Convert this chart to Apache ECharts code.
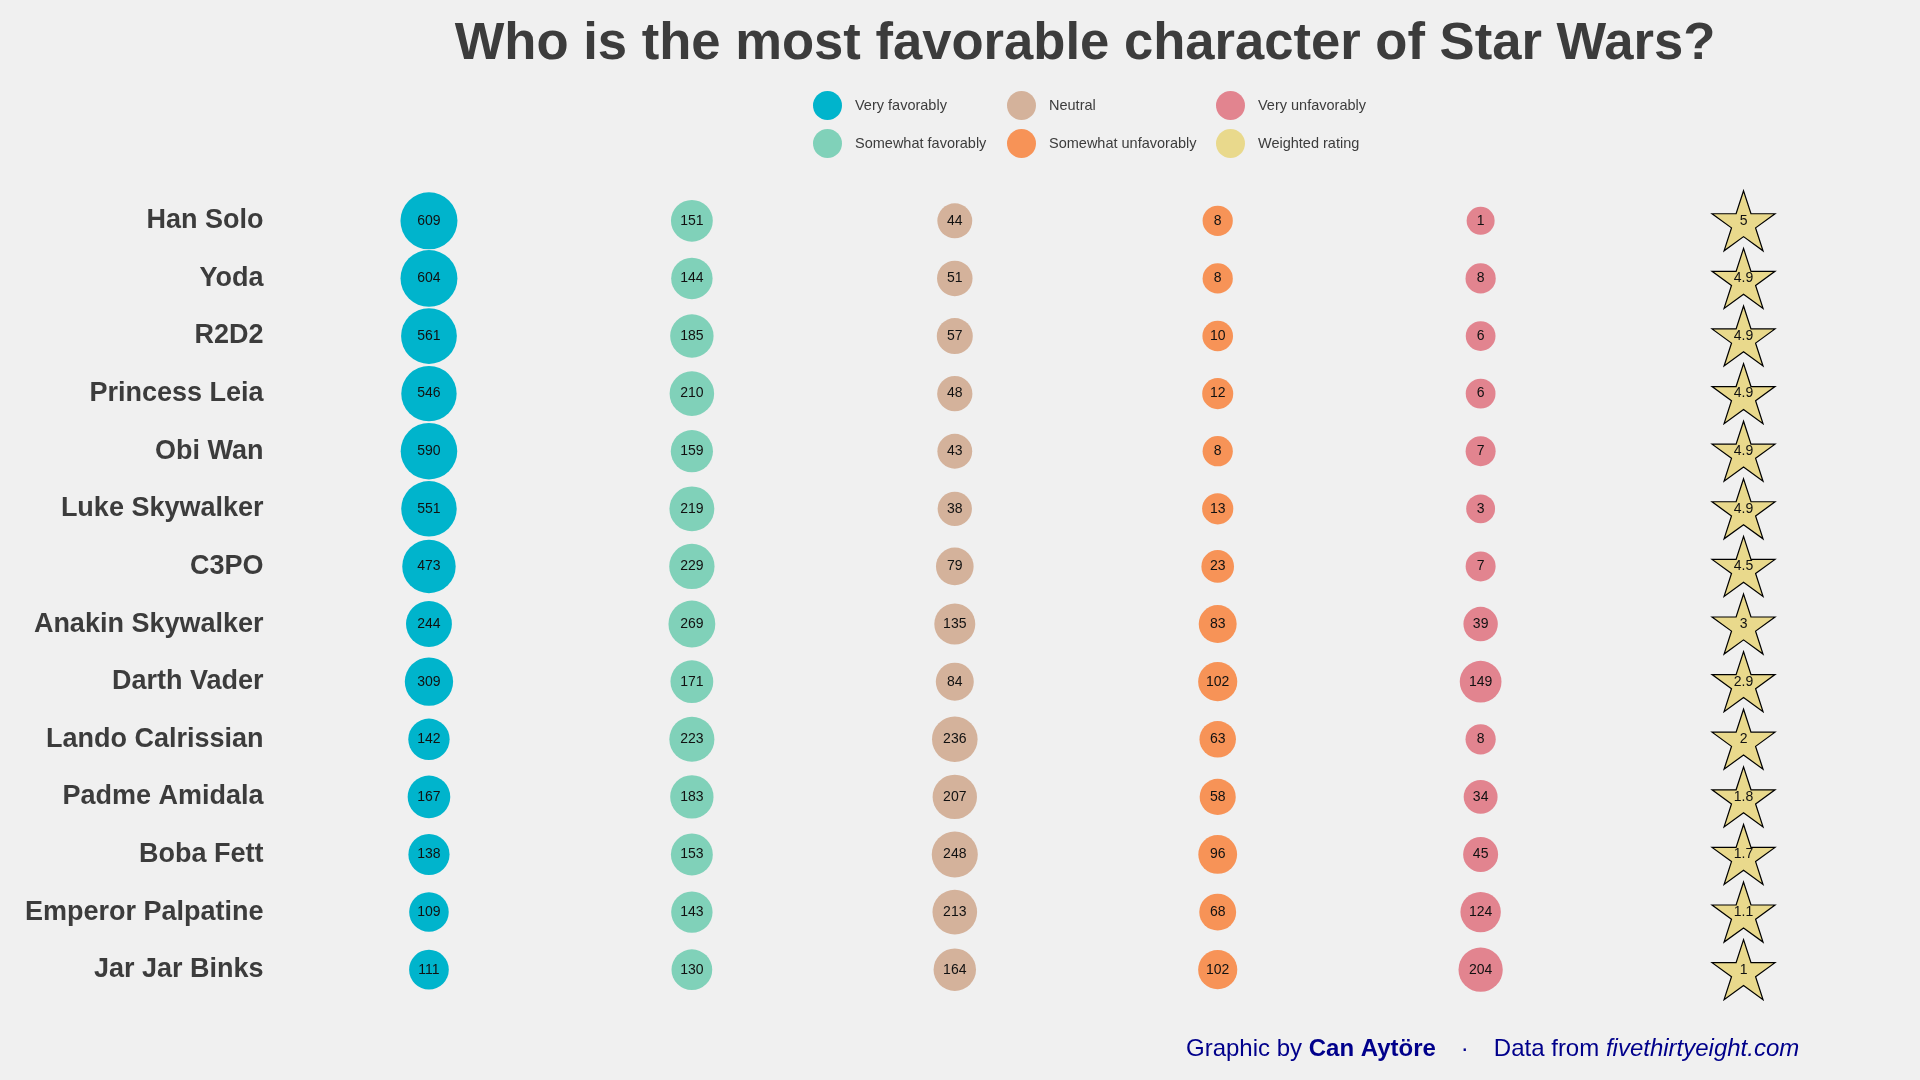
<!DOCTYPE html>
<html>
<head>
<meta charset="utf-8">
<title>Star Wars characters</title>
<script src="https://cdn.jsdelivr.net/npm/echarts@6/dist/echarts.min.js"></script>
<style>
  html, body { margin: 0; padding: 0; background: #f0f0f0; }
  #main { width: 1920px; height: 1080px; }
</style>
</head>
<body>
<div id="main"></div>
<script>
// characters, top to bottom
var characters = ['Han Solo', 'Yoda', 'R2D2', 'Princess Leia', 'Obi Wan', 'Luke Skywalker', 'C3PO',
  'Anakin Skywalker', 'Darth Vader', 'Lando Calrissian', 'Padme Amidala', 'Boba Fett',
  'Emperor Palpatine', 'Jar Jar Binks'];

var veryFavorably = [609, 604, 561, 546, 590, 551, 473, 244, 309, 142, 167, 138, 109, 111];
var somewhatFavorably = [151, 144, 185, 210, 159, 219, 229, 269, 171, 223, 183, 153, 143, 130];
var neutral = [44, 51, 57, 48, 43, 38, 79, 135, 84, 236, 207, 248, 213, 164];
var somewhatUnfavorably = [8, 8, 10, 12, 8, 13, 23, 83, 102, 63, 58, 96, 68, 102];
var veryUnfavorably = [1, 8, 6, 6, 7, 3, 7, 39, 149, 8, 34, 45, 124, 204];
var weightedRating = [5, 4.9, 4.9, 4.9, 4.9, 4.9, 4.5, 3, 2.9, 2, 1.8, 1.7, 1.1, 1];

var columns = [
  { name: 'Very favorably', values: veryFavorably, color: '#00b4cc' },
  { name: 'Somewhat favorably', values: somewhatFavorably, color: '#80d1b9' },
  { name: 'Neutral', values: neutral, color: '#d4b29b' },
  { name: 'Somewhat unfavorably', values: somewhatUnfavorably, color: '#f79357' },
  { name: 'Very unfavorably', values: veryUnfavorably, color: '#e2848f' }
];

var starPath = 'path://M50 0 L61.23 34.55 L97.55 34.55 L68.17 55.9 L79.39 90.45 L50 69.1 ' +
  'L20.61 90.45 L31.83 55.9 L2.45 34.55 L38.77 34.55 Z';

var arial = "'Liberation Sans', Arial, sans-serif";

// bubble diameter grows with the square root of the count
function bubbleSize(v) {
  return 28 + 29 * (Math.sqrt(v) - 1) / (Math.sqrt(609) - 1);
}

var myChart = echarts.init(document.getElementById('main'));

var series = columns.map(function (col, ci) {
  return {
    name: col.name,
    type: 'scatter',
    symbol: 'circle',
    itemStyle: { color: col.color, opacity: 1 },
    symbolSize: function (val) { return bubbleSize(val[2]); },
    label: {
      show: true,
      position: 'inside',
      formatter: function (p) { return p.value[2]; },
      color: '#111',
      fontFamily: arial,
      fontSize: 14
    },
    emphasis: { disabled: true },
    data: col.values.map(function (v, ri) { return [ci, ri, v]; })
  };
});

series.push({
  name: 'Weighted rating',
  type: 'scatter',
  symbol: starPath,
  symbolSize: [63, 60],
  itemStyle: { color: '#e9d98c', borderColor: '#000', borderWidth: 1.2, opacity: 1 },
  label: {
    show: true,
    position: 'inside',
    formatter: function (p) { return p.value[2]; },
    color: '#111',
    fontFamily: arial,
    fontSize: 14
  },
  emphasis: { disabled: true },
  data: weightedRating.map(function (v, ri) { return [5, ri, v]; })
});

function legendCol(left, names) {
  return {
    orient: 'vertical',
    left: left,
    top: 91,
    padding: 0,
    itemWidth: 29,
    itemHeight: 29,
    itemGap: 9,
    icon: 'circle',
    selectedMode: false,
    itemStyle: { borderWidth: 0 },
    data: names,
    textStyle: { fontFamily: arial, fontSize: 14.5, color: '#3c3c3c', padding: [0, 0, 0, 8] }
  };
}

var option = {
  backgroundColor: '#f0f0f0',
  animation: false,
  legend: [
    legendCol(813, ['Very favorably', 'Somewhat favorably']),
    legendCol(1007, ['Neutral', 'Somewhat unfavorably']),
    legendCol(1216, ['Very unfavorably', 'Weighted rating'])
  ],
  grid: { left: 297.5, right: 45, top: 192, bottom: 81.5 },
  xAxis: { type: 'value', min: -0.5, max: 5.5, show: false },
  yAxis: {
    type: 'category',
    inverse: true,
    data: characters,
    axisLine: { show: false },
    axisTick: { show: false },
    splitLine: { show: false },
    axisLabel: {
      margin: 34,
      fontFamily: arial,
      fontWeight: 'bold',
      fontSize: 27,
      color: '#3c3c3c'
    }
  },
  graphic: [
    {
      type: 'text',
      x: 1085,
      y: 44,
      style: {
        text: 'Who is the most favorable character of Star Wars?',
        font: 'bold 52.6px ' + arial,
        fill: '#3c3c3c',
        align: 'center',
        verticalAlign: 'middle'
      }
    },
    {
      type: 'text',
      x: 1186,
      y: 1049,
      style: {
        text: 'Graphic by {b|Can Aytöre}{d|·}Data from {i|fivethirtyeight.com}',
        font: '24px ' + arial,
        fill: '#00008b',
        verticalAlign: 'middle',
        rich: {
          b: { fontWeight: 'bold', fontSize: 24, fontFamily: arial, fill: '#00008b' },
          d: { fontSize: 24, fontFamily: arial, fill: '#00008b', padding: [0, 25, 0, 25] },
          i: { fontStyle: 'italic', fontSize: 24, fontFamily: arial, fill: '#00008b' }
        }
      }
    }
  ],
  series: series
};

myChart.setOption(option);
</script>
</body>
</html>
